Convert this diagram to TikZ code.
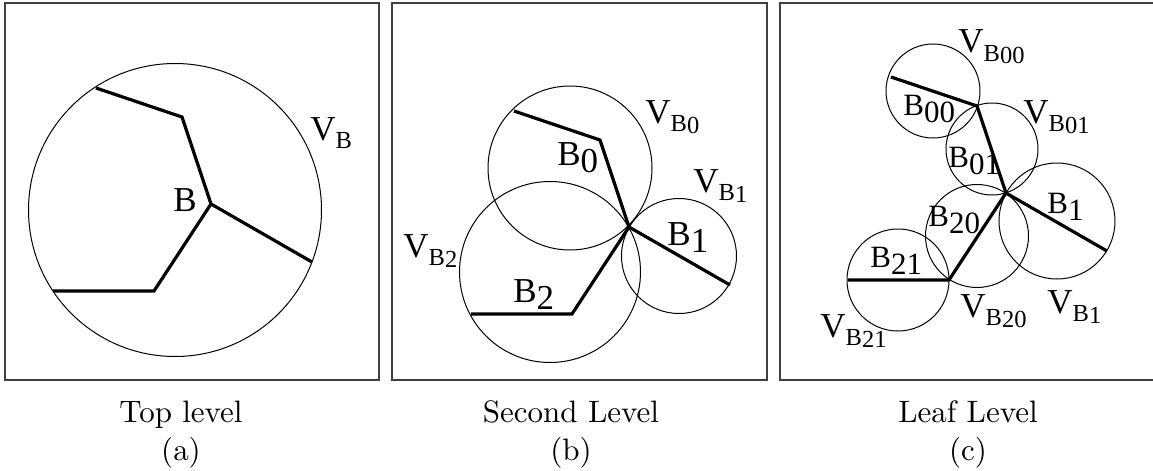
\documentclass[tikz,border=0pt]{standalone}
\usepackage{fontspec}
\newfontfamily\tms{Liberation Serif}
\newfontfamily\lmr{Latin Modern Roman}
\newcommand\sbv[1]{\raisebox{-4pt}{\scalebox{0.7}{#1}}}
\newcommand\sbd[1]{\raisebox{-3.5pt}{#1}}
\newcommand\sbn[1]{\raisebox{-2pt}{#1}}
\newcommand\captext[1]{\scalebox{1.55}{#1}}
\newcommand\drawskel[2]{%
  \begin{scope}[shift={#2}]
    \coordinate (#1j) at (0,0);
    \coordinate (#1u) at (-115,-116);
    \coordinate (#1k) at (-29,-87);
    \coordinate (#1r) at (101,58);
    \coordinate (#1l) at (-57,87);
    \coordinate (#1e) at (-158,87);
  \end{scope}
  \draw[bone] (#1u) -- (#1k) -- (#1j) -- (#1r);
  \draw[bone] (#1j) -- (#1l) -- (#1e);}
\begin{document}
\begin{tikzpicture}[x=0.5pt,y=-0.5pt,
  frame/.style={draw=black!75,line width=0.75pt},
  region/.style={draw,circle,line width=0.5pt,inner sep=0pt},
  bone/.style={draw,line width=1.6pt},
  lab/.style={font=\tms\fontsize{17.5}{20}\selectfont,anchor=base west,inner sep=0pt},
  labs/.style={font=\tms\fontsize{15.5}{18}\selectfont,anchor=base west,inner sep=0pt},
  captxt/.style={font=\lmr\fontsize{10}{12}\selectfont,anchor=base,inner sep=0pt}]
\useasboundingbox (0,0) rectangle (1153,471);

% frames
\draw[frame] (5,3) rectangle (379,380);
\draw[frame] (392,3) rectangle (767,380);
\draw[frame] (1160,3) -- (780,3) -- (780,380) -- (1160,380);

% ---- panel (a)
\node[region,minimum size=146.5pt] (ca) at (175,210) {};
\drawskel{a}{(211,204)}
\node[lab] (la) at (173,211) {B};
\node[lab] (va) at (310,140) {V\sbv{B}};

% ---- panel (b)
\node[region,minimum size=82pt] (cb0) at (570,168) {};
\node[region,minimum size=90.5pt] (cb2) at (550,272) {};
\node[region,minimum size=57.5pt] (cb1) at (679,256) {};
\drawskel{b}{(629,227)}
\node[lab] (lb0) at (557,165) {B\sbd{0}};
\node[lab] (lb1) at (667,245) {B\sbd{1}};
\node[lab] (lb2) at (513,302) {B\sbd{2}};
\node[lab] (vb0) at (645,123) {V\sbv{B\sbn{0}}};
\node[lab] (vb1) at (693,192) {V\sbv{B\sbn{1}}};
\node[lab] (vb2) at (403,257) {V\sbv{B\sbn{2}}};

% ---- panel (c)
\node[region,minimum size=47pt] (cc00) at (933,91) {};
\node[region,minimum size=46pt] (cc01) at (992,149) {};
\node[region,minimum size=58pt] (cc1) at (1057,221) {};
\node[region,minimum size=51.5pt] (cc20) at (977,236) {};
\node[region,minimum size=51pt] (cc21) at (898,280) {};
\drawskel{c}{(1006,193)}
\node[labs] (lc00) at (903,115) {B\sbd{00}};
\node[labs] (lc01) at (948,167) {B\sbd{01}};
\node[labs] (lc1) at (1047,213) {B\sbd{1}};
\node[labs] (lc20) at (928,226) {B\sbd{20}};
\node[labs] (lc21) at (870,267) {B\sbd{21}};
\node[lab] (vc00) at (958,53) {V\sbv{B\sbn{00}}};
\node[lab] (vc01) at (1023,123) {V\sbv{B\sbn{01}}};
\node[lab] (vc20) at (960,317) {V\sbv{B\sbn{20}}};
\node[lab] (vc1) at (1047,313) {V\sbv{B\sbn{1}}};
\node[lab] (vc21) at (820,337) {V\sbv{B\sbn{21}}};

% ---- captions
\node[captxt] (ta) at (181,422) {\captext{Top level}};
\node[captxt] (sa) at (181,460) {\captext{(a)}};
\node[captxt] (tb) at (571,422) {\captext{Second Level}};
\node[captxt] (sb) at (571,460) {\captext{(b)}};
\node[captxt] (tc) at (968,422) {\captext{Leaf Level}};
\node[captxt] (sc) at (968,460) {\captext{(c)}};
\end{tikzpicture}
\end{document}
